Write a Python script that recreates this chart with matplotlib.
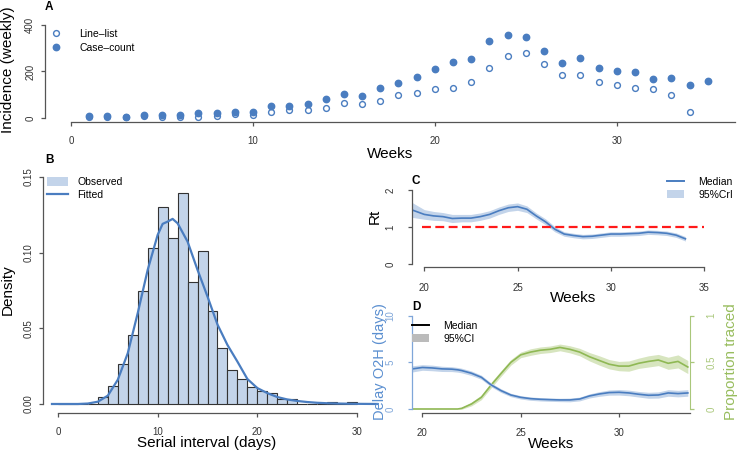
import numpy as np
import matplotlib
matplotlib.use('Agg')
import matplotlib.pyplot as plt
from matplotlib.lines import Line2D
from matplotlib.patches import Patch

plt.rcParams['font.family'] = ['Liberation Sans', 'DejaVu Sans']

W, H = 740, 453
BLUE = '#4a7dc0'
LBLUE = '#c3d4ea'
GREEN = '#8fb854'
AXC = '#555555'
TXC = '#333333'

# ---- panel A: weekly incidence
weeks_cc = list(range(1, 36))
case_count = [7, 7, 4, 14, 11, 11, 21, 21, 24, 27, 50, 53, 60, 83, 104, 93, 127, 150,
              177, 209, 240, 254, 333, 356, 350, 289, 236, 259, 217, 203, 197, 169, 173, 144, 161]
weeks_ll = list(range(1, 35))
line_list = [5, 4, 3, 10, 5, 4, 5, 7, 17, 14, 26, 33, 36, 44, 66, 59, 73, 101,
             109, 123, 131, 153, 216, 267, 279, 234, 184, 187, 153, 144, 129, 124, 97, 26]

# ---- panel B: serial interval histogram (1-day bins) + fitted curve
si_left = list(range(0, 30))
si_density = [0, 0, 0, 0, 0.0046, 0.0119, 0.0266, 0.0457, 0.0749, 0.1028, 0.1302, 0.110,
              0.1395, 0.0808, 0.1012, 0.0617, 0.0367, 0.0222, 0.0165, 0.011, 0.0088, 0.0075,
              0.003, 0.003, 0, 0, 0, 0.0013, 0, 0.0013]
fit_x = [-0.6, 2, 3, 4, 5, 6, 7, 8, 9, 10, 10.5, 11, 11.5, 12, 13, 14, 15, 16, 17, 18, 19,
         20, 21, 22, 23, 24, 25, 26, 27, 28, 30, 32.2]
fit_y = [0, 0, 0.0003, 0.0015, 0.0055, 0.016, 0.0335, 0.060, 0.0886, 0.1117, 0.119, 0.1205,
         0.1223, 0.1194, 0.1073, 0.0886, 0.071, 0.0525, 0.039, 0.028, 0.0165, 0.0105, 0.0072,
         0.0046, 0.003, 0.002, 0.0013, 0.0008, 0.0005, 0.0003, 0.0001, 0]

# ---- panel C: Rt
rt_week = [19.35, 20, 20.5, 21, 21.5, 22, 22.5, 23, 23.5, 24, 24.5, 25, 25.5, 26, 26.5, 27,
           27.5, 28, 28.5, 29, 29.5, 30, 30.5, 31, 31.5, 32, 32.5, 33, 33.5, 34]
rt_med = [1.46, 1.34, 1.30, 1.28, 1.23, 1.24, 1.24, 1.28, 1.34, 1.44, 1.52, 1.55, 1.48, 1.30,
          1.14, 0.94, 0.81, 0.77, 0.74, 0.75, 0.78, 0.81, 0.81, 0.82, 0.83, 0.86, 0.85, 0.83,
          0.78, 0.68]
rt_half = [0.20, 0.13, 0.12, 0.11, 0.11, 0.10, 0.10, 0.10, 0.10, 0.10, 0.10, 0.10, 0.09, 0.08,
           0.08, 0.07, 0.06, 0.06, 0.06, 0.06, 0.06, 0.06, 0.06, 0.06, 0.06, 0.06, 0.06, 0.06,
           0.06, 0.06]

# ---- panel D: delay onset-to-hospitalisation and proportion traced
d_week = [19.5, 20, 20.5, 21, 21.5, 21.8, 22, 22.5, 23, 23.5, 24, 24.5, 25, 25.5, 26, 26.5,
          27, 27.5, 28, 28.5, 29, 29.5, 30, 30.5, 31, 31.5, 32, 32.5, 33, 33.5]
delay_med = [4.3, 4.45, 4.4, 4.3, 4.27, 4.2, 4.12, 3.83, 3.4, 2.58, 1.97, 1.5, 1.25, 1.11,
             1.04, 1.0, 0.97, 0.97, 1.07, 1.4, 1.61, 1.76, 1.79, 1.72, 1.58, 1.47, 1.5, 1.72,
             1.65, 1.72]
delay_half = [0.33, 0.3, 0.3, 0.28, 0.26, 0.25, 0.25, 0.24, 0.22, 0.2, 0.2, 0.18, 0.18, 0.18,
              0.18, 0.18, 0.18, 0.2, 0.2, 0.22, 0.25, 0.28, 0.3, 0.3, 0.3, 0.32, 0.33, 0.35,
              0.35, 0.35]
traced_med = [0, 0, 0, 0, 0, 0, 0.007, 0.054, 0.125, 0.257, 0.38, 0.50, 0.58, 0.61, 0.63,
              0.64, 0.66, 0.64, 0.61, 0.56, 0.52, 0.48, 0.46, 0.46, 0.49, 0.51, 0.525, 0.49,
              0.51, 0.45]
traced_half = [0, 0, 0, 0, 0, 0, 0.01, 0.02, 0.025, 0.03, 0.03, 0.03, 0.03, 0.035, 0.035,
               0.035, 0.036, 0.038, 0.04, 0.045, 0.05, 0.05, 0.05, 0.055, 0.055, 0.06, 0.06,
               0.065, 0.07, 0.07]


def px_axes(fig, x0, y0, x1, y1):
    # pixel box measured from the top-left corner
    return fig.add_axes([x0 / W, 1 - y1 / H, (x1 - x0) / W, (y1 - y0) / H])


def r_style(ax, xb, yb, xpad=7, ypad=4, col=AXC, tcol=TXC):
    ax.patch.set_alpha(0)
    for s in ['top', 'right']:
        ax.spines[s].set_visible(False)
    ax.spines['left'].set_bounds(*yb)
    ax.spines['bottom'].set_bounds(*xb)
    for s in ['left', 'bottom']:
        ax.spines[s].set_color(col)
        ax.spines[s].set_linewidth(0.9)
    ax.tick_params(axis='x', length=3, width=0.9, color=col, labelsize=7, labelcolor=TXC, pad=xpad)
    ax.tick_params(axis='y', length=3, width=0.9, color=col, labelsize=7, labelcolor=tcol, pad=ypad,
                   labelrotation=90)
    for lab in ax.get_yticklabels():
        lab.set_va('center')


def fig_text(x, y, s, **kw):
    fig.text(x / W, 1 - y / H, s, **kw)


fig = plt.figure(figsize=(7.4, 4.53), dpi=100)

# ================= A
axA = px_axes(fig, 45, 20, 735, 122)
axA.plot(weeks_ll, line_list, 'o', ms=4.2, mfc='white', mec=BLUE, mew=1.0, ls='none')
axA.plot(weeks_cc, case_count, 'o', ms=4.6, color=BLUE, ls='none')
axA.set_xlim(-1.43, 36.5)
axA.set_ylim(-17.2, 421.5)
axA.set_xticks([0, 10, 20, 30])
axA.set_yticks([0, 200, 400])
r_style(axA, (0, 36.5), (0, 400), xpad=7, ypad=4)
axA.legend(handles=[Line2D([], [], marker='o', ls='none', ms=4.2, mfc='white', mec=BLUE, mew=1.0),
                    Line2D([], [], marker='o', ls='none', ms=4.6, color=BLUE)],
           labels=['Line\u2013list', 'Case\u2013count'], loc='upper left',
           bbox_to_anchor=(50 / W, 1 - 29 / H), bbox_transform=fig.transFigure,
           frameon=False, fontsize=7.5, handlelength=1.2, handletextpad=1.6,
           labelspacing=0.35, borderpad=0, borderaxespad=0)

# ================= B
axB = px_axes(fig, 43, 170, 378, 413)
axB.bar(si_left, si_density, width=1, align='edge', color=LBLUE, edgecolor='#333333', linewidth=0.8)
axB.plot(fit_x, fit_y, color=BLUE, lw=1.6)
axB.set_xlim(-1.5, 32.1)
axB.set_ylim(-0.00595, 0.1546)
axB.set_xticks([0, 10, 20, 30])
axB.set_yticks([0, 0.05, 0.10, 0.15])
axB.set_yticklabels(['0.00', '0.05', '0.10', '0.15'])
r_style(axB, (0, 30), (0, 0.15), xpad=7, ypad=4)
axB.legend(handles=[Patch(facecolor=LBLUE, edgecolor='none'), Line2D([], [], color=BLUE, lw=1.6)],
           labels=['Observed', 'Fitted'], loc='upper left',
           bbox_to_anchor=(47 / W, 1 - 177 / H), bbox_transform=fig.transFigure,
           frameon=False, fontsize=7.5, handlelength=2.0, handleheight=0.9, handletextpad=0.9,
           labelspacing=0.25, borderpad=0, borderaxespad=0)

# ================= C
axC = px_axes(fig, 412, 185, 730, 267.3)
rt_lo = [m - h for m, h in zip(rt_med, rt_half)]
rt_hi = [m + h for m, h in zip(rt_med, rt_half)]
axC.fill_between(rt_week, rt_lo, rt_hi, color=LBLUE, lw=0)
axC.plot(rt_week, rt_med, color=BLUE, lw=1.2)
axC.plot([19.9, 35], [1, 1], color='#ff1a1a', lw=1.6, dashes=(4, 2))
axC.set_xlim(19.34, 36.39)
axC.set_ylim(-0.089, 2.135)
axC.set_xticks([20, 25, 30, 35])
axC.set_yticks([0, 1, 2])
r_style(axC, (20, 35), (0, 2), xpad=8, ypad=9)
axC.legend(handles=[Line2D([], [], color=BLUE, lw=1.4), Patch(facecolor=LBLUE, edgecolor='none')],
           labels=['Median', '95%CrI'], loc='upper left',
           bbox_to_anchor=(667 / W, 1 - 177 / H), bbox_transform=fig.transFigure,
           frameon=False, fontsize=7.5, handlelength=1.6, handleheight=0.9, handletextpad=1.4,
           labelspacing=0.25, borderpad=0, borderaxespad=0)

# ================= D
axD = px_axes(fig, 412.3, 312, 690, 413)
d_lo = [m - h for m, h in zip(delay_med, delay_half)]
d_hi = [m + h for m, h in zip(delay_med, delay_half)]
axD.fill_between(d_week, d_lo, d_hi, color=LBLUE, lw=0)
axD.plot(d_week, delay_med, color=BLUE, lw=1.2)
axD.set_xlim(19.49, 33.61)
axD.set_ylim(-0.429, 10.397)
axD.set_xticks([20, 25, 30])
axD.set_yticks([0, 5, 10])
DBLUE = '#7fa6d9'
r_style(axD, (20, 33.61), (0, 10), xpad=8, ypad=9, col=AXC, tcol=DBLUE)
axD.spines['left'].set_color(DBLUE)
axD.tick_params(axis='y', color=DBLUE)

axD2 = axD.twinx()
t_lo = [m - h for m, h in zip(traced_med, traced_half)]
t_hi = [m + h for m, h in zip(traced_med, traced_half)]
axD2.fill_between(d_week, t_lo, t_hi, color='#d7e5bf', lw=0)
axD2.plot(d_week, traced_med, color=GREEN, lw=1.2)
axD2.set_ylim(-0.0429, 1.0397)
axD2.set_yticks([0, 0.5, 1])
axD2.set_yticklabels(['0', '0.5', '1'])
for s in ['top', 'left', 'bottom']:
    axD2.spines[s].set_visible(False)
axD2.spines['right'].set_bounds(0, 1)
axD2.spines['right'].set_color('#a9c77a')
axD2.tick_params(axis='y', length=3, width=0.9, color='#a9c77a', labelsize=7, labelcolor='#a9c77a',
                 pad=9, labelrotation=90)
for lab in axD2.get_yticklabels():
    lab.set_va('center')
# keep the blue delay curve above the green band
axD.set_zorder(axD2.get_zorder() + 1)
axD.patch.set_visible(False)
axD.legend(handles=[Line2D([], [], color='black', lw=1.4), Patch(facecolor='#bbbbbb', edgecolor='none')],
           labels=['Median', '95%CI'], loc='upper left',
           bbox_to_anchor=(412 / W, 1 - 321 / H), bbox_transform=fig.transFigure,
           frameon=False, fontsize=7.5, handlelength=1.6, handleheight=0.9, handletextpad=1.4,
           labelspacing=0.25, borderpad=0, borderaxespad=0)

# ---- axis titles and panel letters
fig_text(390, 158, 'Weeks', ha='center', va='baseline', fontsize=11)
fig_text(8.5, 70, 'Incidence (weekly)', ha='center', va='center', rotation=90, fontsize=11)
fig_text(207, 447, 'Serial interval (days)', ha='center', va='baseline', fontsize=11)
fig_text(8, 290, 'Density', ha='center', va='center', rotation=90, fontsize=11)
fig_text(573, 302.5, 'Weeks', ha='center', va='baseline', fontsize=11)
fig_text(375, 216, 'Rt', ha='center', va='center', rotation=90, fontsize=11)
fig_text(551, 448, 'Weeks', ha='center', va='baseline', fontsize=11)
fig_text(380, 362, 'Delay O2H (days)', ha='center', va='center', rotation=90, fontsize=10.5, color='#5b8fd0')
fig_text(731, 362, 'Proportion traced', ha='center', va='center', rotation=90, fontsize=11, color='#98bd5e')

for letter, x, y in [('A', 45, 9.5), ('B', 45, 163), ('C', 412, 184), ('D', 412, 310)]:
    fig_text(x, y, letter, ha='left', va='baseline', fontsize=8.5, fontweight='bold')

fig.savefig('out.png', dpi=100)
